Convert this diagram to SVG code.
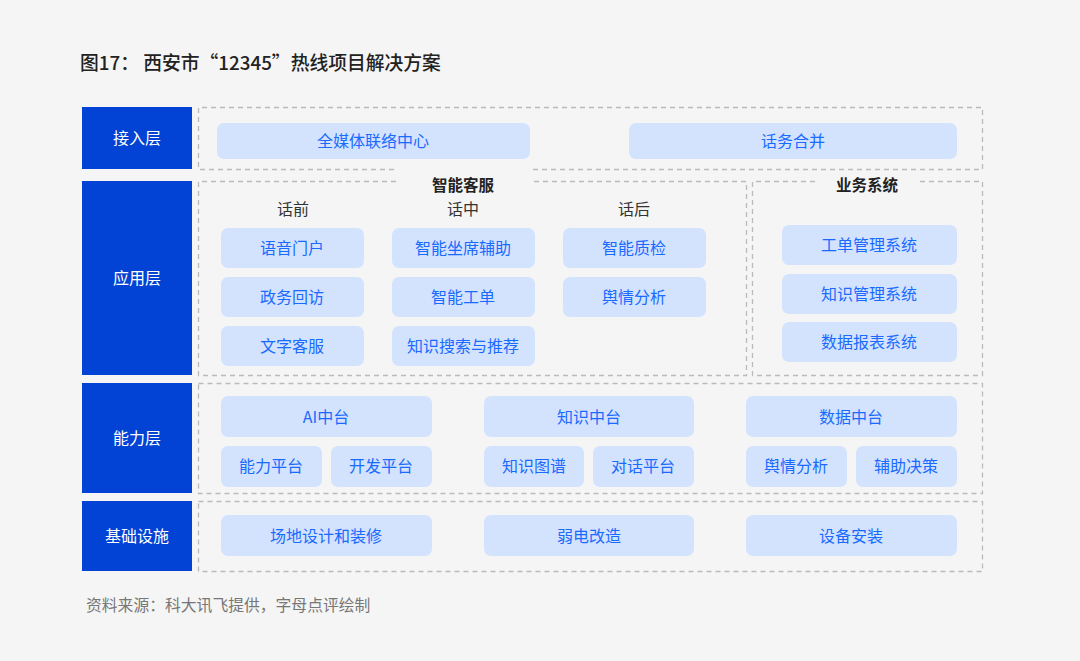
<svg xmlns="http://www.w3.org/2000/svg" width="1080" height="661" viewBox="0 0 1080 661">
<style>
text{font-family:"Noto Sans CJK SC","Noto Sans",sans-serif;text-anchor:middle;dominant-baseline:central}
.lay rect{fill:#0242D4}
.lay text{fill:#fff;font-size:16px}
.p rect{fill:#D3E3FD}
.p text{fill:#1A6AFF;font-size:16px}
.d{fill:none;stroke:#bbb;stroke-width:1.3;stroke-dasharray:5 4}
.h{fill:#333;font-size:16px}
.hb{fill:#222;font-size:15.5px;font-weight:bold}
</style>
<rect x="0" y="0" width="1080" height="661" fill="#f5f5f5"/>
<g transform="translate(0,-1.5)">
<text x="80" y="63" style="text-anchor:start;font-size:18.8px;font-weight:500" fill="#222">图17： 西安市“12345”热线项目解决方案</text>
</g>
<g id="layers" class="lay">
<g id="l1"><rect x="82" y="107" width="110" height="62"/><text x="137" y="137">接入层</text></g>
<g id="l2"><rect x="82" y="181" width="110" height="194"/><text x="137" y="277">应用层</text></g>
<g id="l3"><rect x="82" y="383" width="110" height="110"/><text x="137" y="437">能力层</text></g>
<g id="l4"><rect x="82" y="501" width="110" height="70"/><text x="137" y="535">基础设施</text></g>
</g>
<g id="frames">
<path class="d" d="M533 169.5H982.5V107.5H198.5V169.5H396"/>
<path class="d" d="M396 181.5H198.5V375.5H746.5V181.5H533"/>
<path class="d" d="M815 181.5H752.5V375.5H982.5V181.5H920"/>
<rect class="d" x="198.5" y="383.5" width="784" height="110"/>
<rect class="d" x="198.5" y="501.5" width="784" height="70"/>
<text class="hb" x="463" y="184">智能客服</text>
<text class="hb" x="867" y="184">业务系统</text>
<text class="h" x="293" y="208">话前</text>
<text class="h" x="463" y="208">话中</text>
<text class="h" x="634" y="208">话后</text>
</g>
<g id="pills" class="p">
<g id="n1"><rect x="217" y="123" width="313" height="36" rx="7"/><text x="373" y="140">全媒体联络中心</text></g>
<g id="n2"><rect x="629" y="123" width="328" height="36" rx="7"/><text x="793" y="140">话务合并</text></g>
<g id="n3"><rect x="221" y="228" width="143" height="40" rx="7"/><text x="292" y="247">语音门户</text></g>
<g id="n4"><rect x="221" y="277" width="143" height="40" rx="7"/><text x="292" y="296">政务回访</text></g>
<g id="n5"><rect x="221" y="326" width="143" height="40" rx="7"/><text x="292" y="345">文字客服</text></g>
<g id="n6"><rect x="392" y="228" width="143" height="40" rx="7"/><text x="463" y="247">智能坐席辅助</text></g>
<g id="n7"><rect x="392" y="277" width="143" height="40" rx="7"/><text x="463" y="296">智能工单</text></g>
<g id="n8"><rect x="392" y="326" width="143" height="40" rx="7"/><text x="463" y="345">知识搜索与推荐</text></g>
<g id="n9"><rect x="563" y="228" width="143" height="40" rx="7"/><text x="634" y="247">智能质检</text></g>
<g id="n10"><rect x="563" y="277" width="143" height="40" rx="7"/><text x="634" y="296">舆情分析</text></g>
<g id="n11"><rect x="782" y="225" width="175" height="40" rx="7"/><text x="869" y="244">工单管理系统</text></g>
<g id="n12"><rect x="782" y="274" width="175" height="40" rx="7"/><text x="869" y="293">知识管理系统</text></g>
<g id="n13"><rect x="782" y="322" width="175" height="40" rx="7"/><text x="869" y="341">数据报表系统</text></g>
<g id="n14"><rect x="221" y="396" width="211" height="41" rx="7"/><text x="326" y="415.5">AI中台</text></g>
<g id="n15"><rect x="221" y="446" width="101" height="41" rx="7"/><text x="271" y="465">能力平台</text></g>
<g id="n16"><rect x="331" y="446" width="101" height="41" rx="7"/><text x="381" y="465">开发平台</text></g>
<g id="n17"><rect x="484" y="396" width="210" height="41" rx="7"/><text x="589" y="415.5">知识中台</text></g>
<g id="n18"><rect x="484" y="446" width="100" height="41" rx="7"/><text x="534" y="465">知识图谱</text></g>
<g id="n19"><rect x="593" y="446" width="101" height="41" rx="7"/><text x="643" y="465">对话平台</text></g>
<g id="n20"><rect x="746" y="396" width="211" height="41" rx="7"/><text x="851" y="415.5">数据中台</text></g>
<g id="n21"><rect x="746" y="446" width="101" height="41" rx="7"/><text x="796" y="465">舆情分析</text></g>
<g id="n22"><rect x="856" y="446" width="101" height="41" rx="7"/><text x="906" y="465">辅助决策</text></g>
<g id="n23"><rect x="221" y="515" width="211" height="41" rx="7"/><text x="326" y="534.5">场地设计和装修</text></g>
<g id="n24"><rect x="484" y="515" width="210" height="41" rx="7"/><text x="589" y="534.5">弱电改造</text></g>
<g id="n25"><rect x="746" y="515" width="211" height="41" rx="7"/><text x="851" y="534.5">设备安装</text></g>
</g>
<g id="connectors"/>
<text x="86" y="604" style="text-anchor:start;font-size:15.8px" fill="#777">资料来源：科大讯飞提供，字母点评绘制</text>
</svg>
